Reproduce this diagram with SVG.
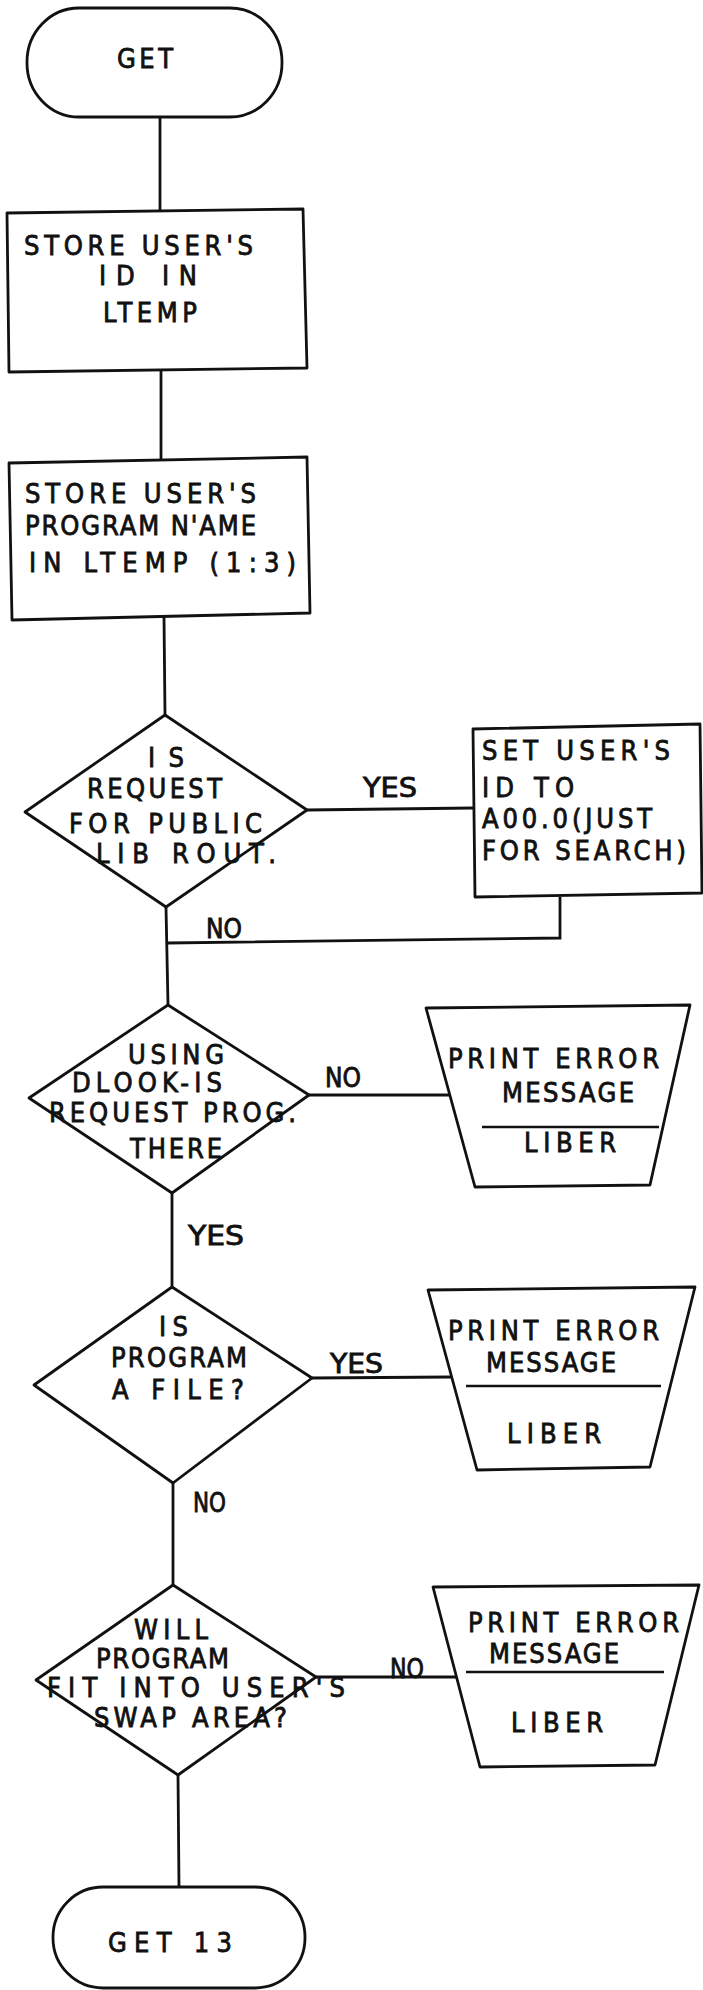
<svg xmlns="http://www.w3.org/2000/svg" width="703" height="1990" viewBox="0 0 703 1990">
<style>
.s{fill:#fff;stroke:#111;stroke-width:2.8;stroke-linejoin:round}
.c{fill:none;stroke:#111;stroke-width:2.8}
.d{fill:none;stroke:#111;stroke-width:2.6}
text{font-family:"Liberation Sans Narrow","DejaVu Sans Condensed","Liberation Sans",Arial,sans-serif;font-size:27px;fill:#111;stroke:#111;stroke-width:0.8}
</style>
<rect width="703" height="1990" fill="#fff"/>
<g id="connectors">
<line class="c" x1="160" y1="117" x2="160" y2="211"/>
<line class="c" x1="161" y1="368" x2="161" y2="460"/>
<line class="c" x1="164" y1="617" x2="165" y2="715"/>
<line class="c" x1="307" y1="810" x2="473" y2="808"/>
<polyline class="c" points="560,897 560,938 168,943"/>
<line class="c" x1="166" y1="907" x2="168" y2="1005"/>
<line class="c" x1="309" y1="1095" x2="451" y2="1095"/>
<line class="c" x1="172" y1="1193" x2="172" y2="1287"/>
<line class="c" x1="312" y1="1378" x2="451" y2="1377"/>
<line class="c" x1="173" y1="1483" x2="173" y2="1585"/>
<line class="c" x1="316" y1="1677" x2="457" y2="1677"/>
<line class="c" x1="178" y1="1775" x2="179" y2="1887"/>
<text x="363" y="797" textLength="54" lengthAdjust="spacingAndGlyphs">YES</text>
<text x="206" y="938" textLength="36" lengthAdjust="spacingAndGlyphs">NO</text>
<text x="325" y="1087" textLength="36" lengthAdjust="spacingAndGlyphs">NO</text>
<text x="188" y="1245" textLength="56" lengthAdjust="spacingAndGlyphs">YES</text>
<text x="330" y="1373" textLength="53" lengthAdjust="spacingAndGlyphs">YES</text>
<text x="193" y="1512" textLength="33" lengthAdjust="spacingAndGlyphs">NO</text>
<text x="390" y="1678" textLength="34" lengthAdjust="spacingAndGlyphs">NO</text>
</g>
<g id="get">
<rect class="s" x="27" y="8" width="255" height="109" rx="52" ry="54"/>
<text x="117" y="68" textLength="56" lengthAdjust="spacing">GET</text>
</g>
<g id="store-id">
<path class="s" d="M7,213 L303,209 L307,368 L9,372 Z"/>
<text x="24" y="255" textLength="229" lengthAdjust="spacing">STORE USER'S</text>
<text x="99" y="285" textLength="98" lengthAdjust="spacing">ID IN</text>
<text x="103" y="322" textLength="94" lengthAdjust="spacing">LTEMP</text>
</g>
<g id="store-name">
<path class="s" d="M9,463 L307,457 L310,613 L12,620 Z"/>
<text x="25" y="503" textLength="231" lengthAdjust="spacing">STORE USER'S</text>
<text x="25" y="535" textLength="231" lengthAdjust="spacing">PROGRAM N'AME</text>
<text x="29" y="572" textLength="267" lengthAdjust="spacing">IN LTEMP (1:3)</text>
</g>
<g id="public-lib">
<polygon class="s" points="165,715 307,810 166,907 25,812"/>
<text x="148" y="767" textLength="36" lengthAdjust="spacing">IS</text>
<text x="87" y="798" textLength="135" lengthAdjust="spacing">REQUEST</text>
<text x="69" y="833" textLength="193" lengthAdjust="spacing">FOR PUBLIC</text>
<text x="96" y="863" textLength="180" lengthAdjust="spacing">LIB ROUT.</text>
</g>
<g id="set-id">
<path class="s" d="M473,729 L700,724 L702,893 L475,897 Z"/>
<text x="482" y="760" textLength="188" lengthAdjust="spacing">SET USER'S</text>
<text x="482" y="797" textLength="92" lengthAdjust="spacing">ID TO</text>
<text x="482" y="828" textLength="170" lengthAdjust="spacing">A00.0(JUST</text>
<text x="482" y="860" textLength="204" lengthAdjust="spacing">FOR SEARCH)</text>
</g>
<g id="dlook">
<polygon class="s" points="168,1005 309,1095 172,1193 29,1098"/>
<text x="128" y="1064" textLength="96" lengthAdjust="spacing">USING</text>
<text x="72" y="1092" textLength="150" lengthAdjust="spacing">DLOOK-IS</text>
<text x="49" y="1122" textLength="247" lengthAdjust="spacing">REQUEST PROG.</text>
<text x="130" y="1158" textLength="92" lengthAdjust="spacing">THERE</text>
</g>
<g id="err1">
<polygon class="s" points="426,1008 690,1005 650,1185 475,1187"/>
<text x="448" y="1068" textLength="211" lengthAdjust="spacing">PRINT ERROR</text>
<text x="502" y="1102" textLength="132" lengthAdjust="spacing">MESSAGE</text>
<line class="d" x1="482" y1="1127" x2="659" y2="1127"/>
<text x="524" y="1152" textLength="92" lengthAdjust="spacing">LIBER</text>
</g>
<g id="is-file">
<polygon class="s" points="172,1287 312,1378 173,1483 34,1385"/>
<text x="159" y="1336" textLength="29" lengthAdjust="spacing">IS</text>
<text x="111" y="1367" textLength="136" lengthAdjust="spacing">PROGRAM</text>
<text x="112" y="1399" textLength="132" lengthAdjust="spacing">A FILE?</text>
</g>
<g id="err2">
<polygon class="s" points="428,1290 695,1287 650,1467 477,1470"/>
<text x="448" y="1340" textLength="211" lengthAdjust="spacing">PRINT ERROR</text>
<text x="486" y="1372" textLength="130" lengthAdjust="spacing">MESSAGE</text>
<line class="d" x1="466" y1="1386" x2="661" y2="1386"/>
<text x="507" y="1443" textLength="94" lengthAdjust="spacing">LIBER</text>
</g>
<g id="swap">
<polygon class="s" points="173,1585 316,1677 178,1775 36,1680"/>
<text x="134" y="1639" textLength="74" lengthAdjust="spacing">WILL</text>
<text x="96" y="1668" textLength="133" lengthAdjust="spacing">PROGRAM</text>
<text x="47" y="1697" textLength="298" lengthAdjust="spacing">FIT INTO USER'S</text>
<text x="94" y="1727" textLength="193" lengthAdjust="spacing">SWAP AREA?</text>
</g>
<g id="err3">
<polygon class="s" points="433,1587 699,1585 655,1765 480,1767"/>
<text x="468" y="1632" textLength="211" lengthAdjust="spacing">PRINT ERROR</text>
<text x="489" y="1663" textLength="130" lengthAdjust="spacing">MESSAGE</text>
<line class="d" x1="466" y1="1672" x2="664" y2="1672"/>
<text x="511" y="1732" textLength="92" lengthAdjust="spacing">LIBER</text>
</g>
<g id="get13">
<rect class="s" x="53" y="1887" width="252" height="101" rx="50" ry="50"/>
<text x="108" y="1952" textLength="124" lengthAdjust="spacing">GET 13</text>
</g>
</svg>
